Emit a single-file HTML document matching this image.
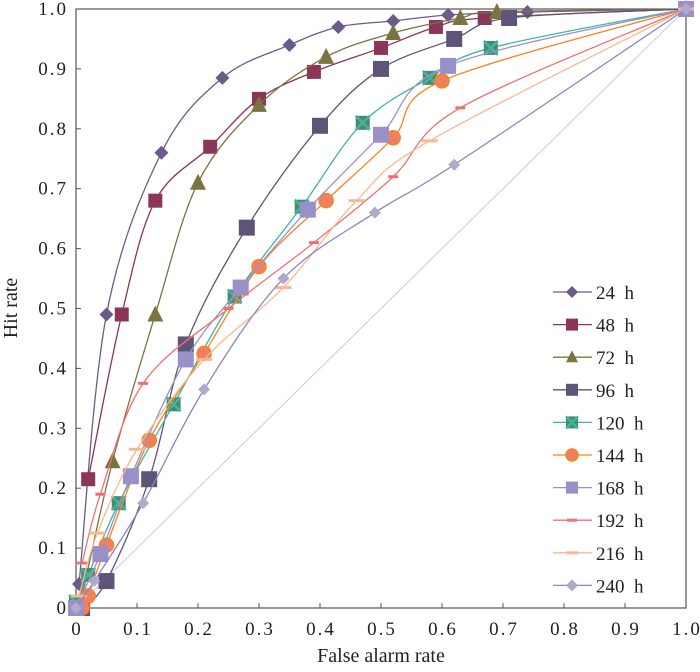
<!DOCTYPE html>
<html><head><meta charset="utf-8"><style>
body{margin:0;background:#fff;}
svg text{font-family:"Liberation Serif",serif;fill:#222;}
.tk{letter-spacing:2px;}
</style></head><body>
<svg id="chart" width="700" height="667" xmlns="http://www.w3.org/2000/svg"></svg>
<script>
const seriesNames=["24 h","48 h","72 h","96 h","120 h","144 h","168 h","192 h","216 h","240 h"];
const xTicks=[0,0.1,0.2,0.3,0.4,0.5,0.6,0.7,0.8,0.9,1.0];
const yTicks=[0,0.1,0.2,0.3,0.4,0.5,0.6,0.7,0.8,0.9,1.0];
const fa24=[0.005,0.05,0.14,0.24,0.35,0.43,0.52,0.61,0.74,1];
const hr24=[0.04,0.49,0.76,0.885,0.94,0.97,0.98,0.99,0.995,1];
const fa48=[0.02,0.075,0.13,0.22,0.3,0.39,0.5,0.59,0.67,1];
const hr48=[0.215,0.49,0.68,0.77,0.85,0.895,0.935,0.97,0.985,1];
const fa72=[0.01,0.06,0.13,0.2,0.3,0.41,0.52,0.63,0.69,1];
const hr72=[0.02,0.245,0.49,0.71,0.84,0.92,0.96,0.985,0.995,1];
const fa96=[0.01,0.05,0.12,0.18,0.28,0.4,0.5,0.62,0.71,1];
const hr96=[0.0,0.045,0.215,0.44,0.635,0.805,0.9,0.95,0.985,1];
const fa120=[0,0.02,0.07,0.16,0.26,0.37,0.47,0.58,0.68,1];
const hr120=[0.01,0.055,0.175,0.34,0.52,0.67,0.81,0.885,0.935,1];
const fa144=[0.01,0.02,0.05,0.12,0.21,0.3,0.41,0.52,0.6,1];
const hr144=[0,0.02,0.105,0.28,0.425,0.57,0.68,0.785,0.88,1];
const fa168=[0,0.04,0.09,0.18,0.27,0.38,0.5,0.61,1];
const hr168=[0,0.09,0.22,0.415,0.535,0.665,0.79,0.905,1];
const fa192=[0.01,0.04,0.11,0.25,0.39,0.52,0.63,1];
const hr192=[0.075,0.19,0.375,0.5,0.61,0.72,0.835,1];
const fa216=[0.005,0.035,0.1,0.21,0.34,0.46,0.58,1];
const hr216=[0.02,0.125,0.265,0.415,0.535,0.68,0.78,1];
const fa240=[0,0.03,0.11,0.21,0.34,0.49,0.62,1];
const hr240=[0,0.045,0.175,0.365,0.55,0.66,0.74,1];

const X0=76,X1=686,Y0=608,Y1=9;
const sx=v=>X0+v*(X1-X0), sy=v=>Y0-v*(Y0-Y1);
const svg=document.getElementById('chart');
const NS="http://www.w3.org/2000/svg";
function mk(tag,attrs,parent){const e=document.createElementNS(NS,tag);for(const k in attrs)e.setAttribute(k,attrs[k]);(parent||svg).appendChild(e);return e;}

const styles=[
 {line:"#6b5b8a",fill:"#6b5b8a",m:"diamond",s:7},
 {line:"#8b3558",fill:"#8b3558",m:"square",s:7},
 {line:"#7a7440",fill:"#7a7440",m:"triangle",s:8},
 {line:"#5e5478",fill:"#5e5478",m:"square",s:8},
 {line:"#3fb5a5",fill:"#4a8a6a",m:"xsquare",s:7},
 {line:"#f5841f",fill:"#f08060",m:"circle",s:7},
 {line:"#9a90c8",fill:"#9a90c8",m:"square",s:8},
 {line:"#f07070",fill:"#f07070",m:"dash",s:5},
 {line:"#f8b890",fill:"#f8b890",m:"dash",s:8},
 {line:"#8a84c0",fill:"#b0aac8",m:"diamond",s:6}
];
const data=[[fa24,hr24],[fa48,hr48],[fa72,hr72],[fa96,hr96],[fa120,hr120],[fa144,hr144],[fa168,hr168],[fa192,hr192],[fa216,hr216],[fa240,hr240]];

const diag=mk('line',{x1:sx(0),y1:sy(0),x2:sx(1),y2:sy(1),stroke:"#ccc","stroke-width":1});



const fr=mk('rect',{x:X0,y:Y1,width:X1-X0,height:Y0-Y1,fill:"none",stroke:"#555","stroke-width":1.2});



xTicks.forEach(t=>{
 const l=mk('line',{x1:sx(t),y1:Y0,x2:sx(t),y2:Y0-5,stroke:"#555"});
 
 
 const tx=mk('text',{x:sx(t)+1,y:Y0+27,"text-anchor":"middle","font-size":19,class:"tk"});
 tx.textContent=t===0?"0":t.toFixed(1);
 
 
});
yTicks.forEach(t=>{
 const l=mk('line',{x1:X0,y1:sy(t),x2:X0+5,y2:sy(t),stroke:"#555"});
 
 
 const tx=mk('text',{x:X0-8,y:sy(t)+6,"text-anchor":"end","font-size":19,class:"tk"});
 tx.textContent=t===0?"0":t.toFixed(1);
 
 
});
const xt=mk('text',{x:381,y:662,"text-anchor":"middle","font-size":20});
xt.textContent="False alarm rate";


const yt=mk('text',{x:17,y:308,"text-anchor":"middle","font-size":20,transform:"rotate(-90 17 308)"});
yt.textContent="Hit rate";



function smooth(pts){
 let d=`M${pts[0][0]},${pts[0][1]}`;
 for(let i=0;i<pts.length-1;i++){
  const p0=pts[i-1]||pts[i],p1=pts[i],p2=pts[i+1],p3=pts[i+2]||p2;
  const c1=[p1[0]+(p2[0]-p0[0])/6,p1[1]+(p2[1]-p0[1])/6];
  const c2=[p2[0]-(p3[0]-p1[0])/6,p2[1]-(p3[1]-p1[1])/6];
  d+=`C${c1[0]},${c1[1]} ${c2[0]},${c2[1]} ${p2[0]},${p2[1]}`;
 }
 return d;
}
function marker(g,st,x,y){
 const s=st.s;let e;
 if(st.m==="diamond") e=mk('polygon',{points:`${x},${y-s} ${x+s},${y} ${x},${y+s} ${x-s},${y}`,fill:st.fill},g);
 else if(st.m==="square"||st.m==="xsquare"){
  e=mk('rect',{x:x-s,y:y-s,width:2*s,height:2*s,fill:st.fill},g);
  if(st.m==="xsquare"){mk('path',{d:`M${x-s},${y-s}L${x+s},${y+s}M${x+s},${y-s}L${x-s},${y+s}`,stroke:st.line,"stroke-width":2.5},g);}
 }
 else if(st.m==="triangle") e=mk('polygon',{points:`${x},${y-s-1} ${x+s},${y+s-1} ${x-s},${y+s-1}`,fill:st.fill},g);
 else if(st.m==="circle") e=mk('circle',{cx:x,cy:y,r:s,fill:st.fill,stroke:st.line,"stroke-width":1.5},g);
 else e=mk('rect',{x:x-s,y:y-1.5,width:2*s,height:3,fill:st.fill},g);
 return e;
}
data.forEach((d,i)=>{
 const st=styles[i];
 const g=mk('g',{});
 
 
 const pts=d[0].map((v,j)=>[sx(v),sy(d[1][j])]);
 const p=mk('path',{d:smooth(pts),fill:"none",stroke:st.line,"stroke-width":1.3},g);
 
 
 pts.forEach(q=>{const m=marker(g,st,q[0],q[1]);
  
  });
});
const lg=mk('g',{});


seriesNames.forEach((n,i)=>{
 const y=292+i*32.6, st=styles[i];
 const e=mk('g',{},lg);
 
 
 mk('line',{x1:553,y1:y,x2:592,y2:y,stroke:st.line,"stroke-width":1.3},e);
 marker(e,Object.assign({},st,{s:Math.min(st.s,6)}),572,y);
 const t=mk('text',{x:596,y:y+7,"font-size":19},e);
 t.textContent=n.replace(' ','\u2002');
});
</script>
</body></html>
